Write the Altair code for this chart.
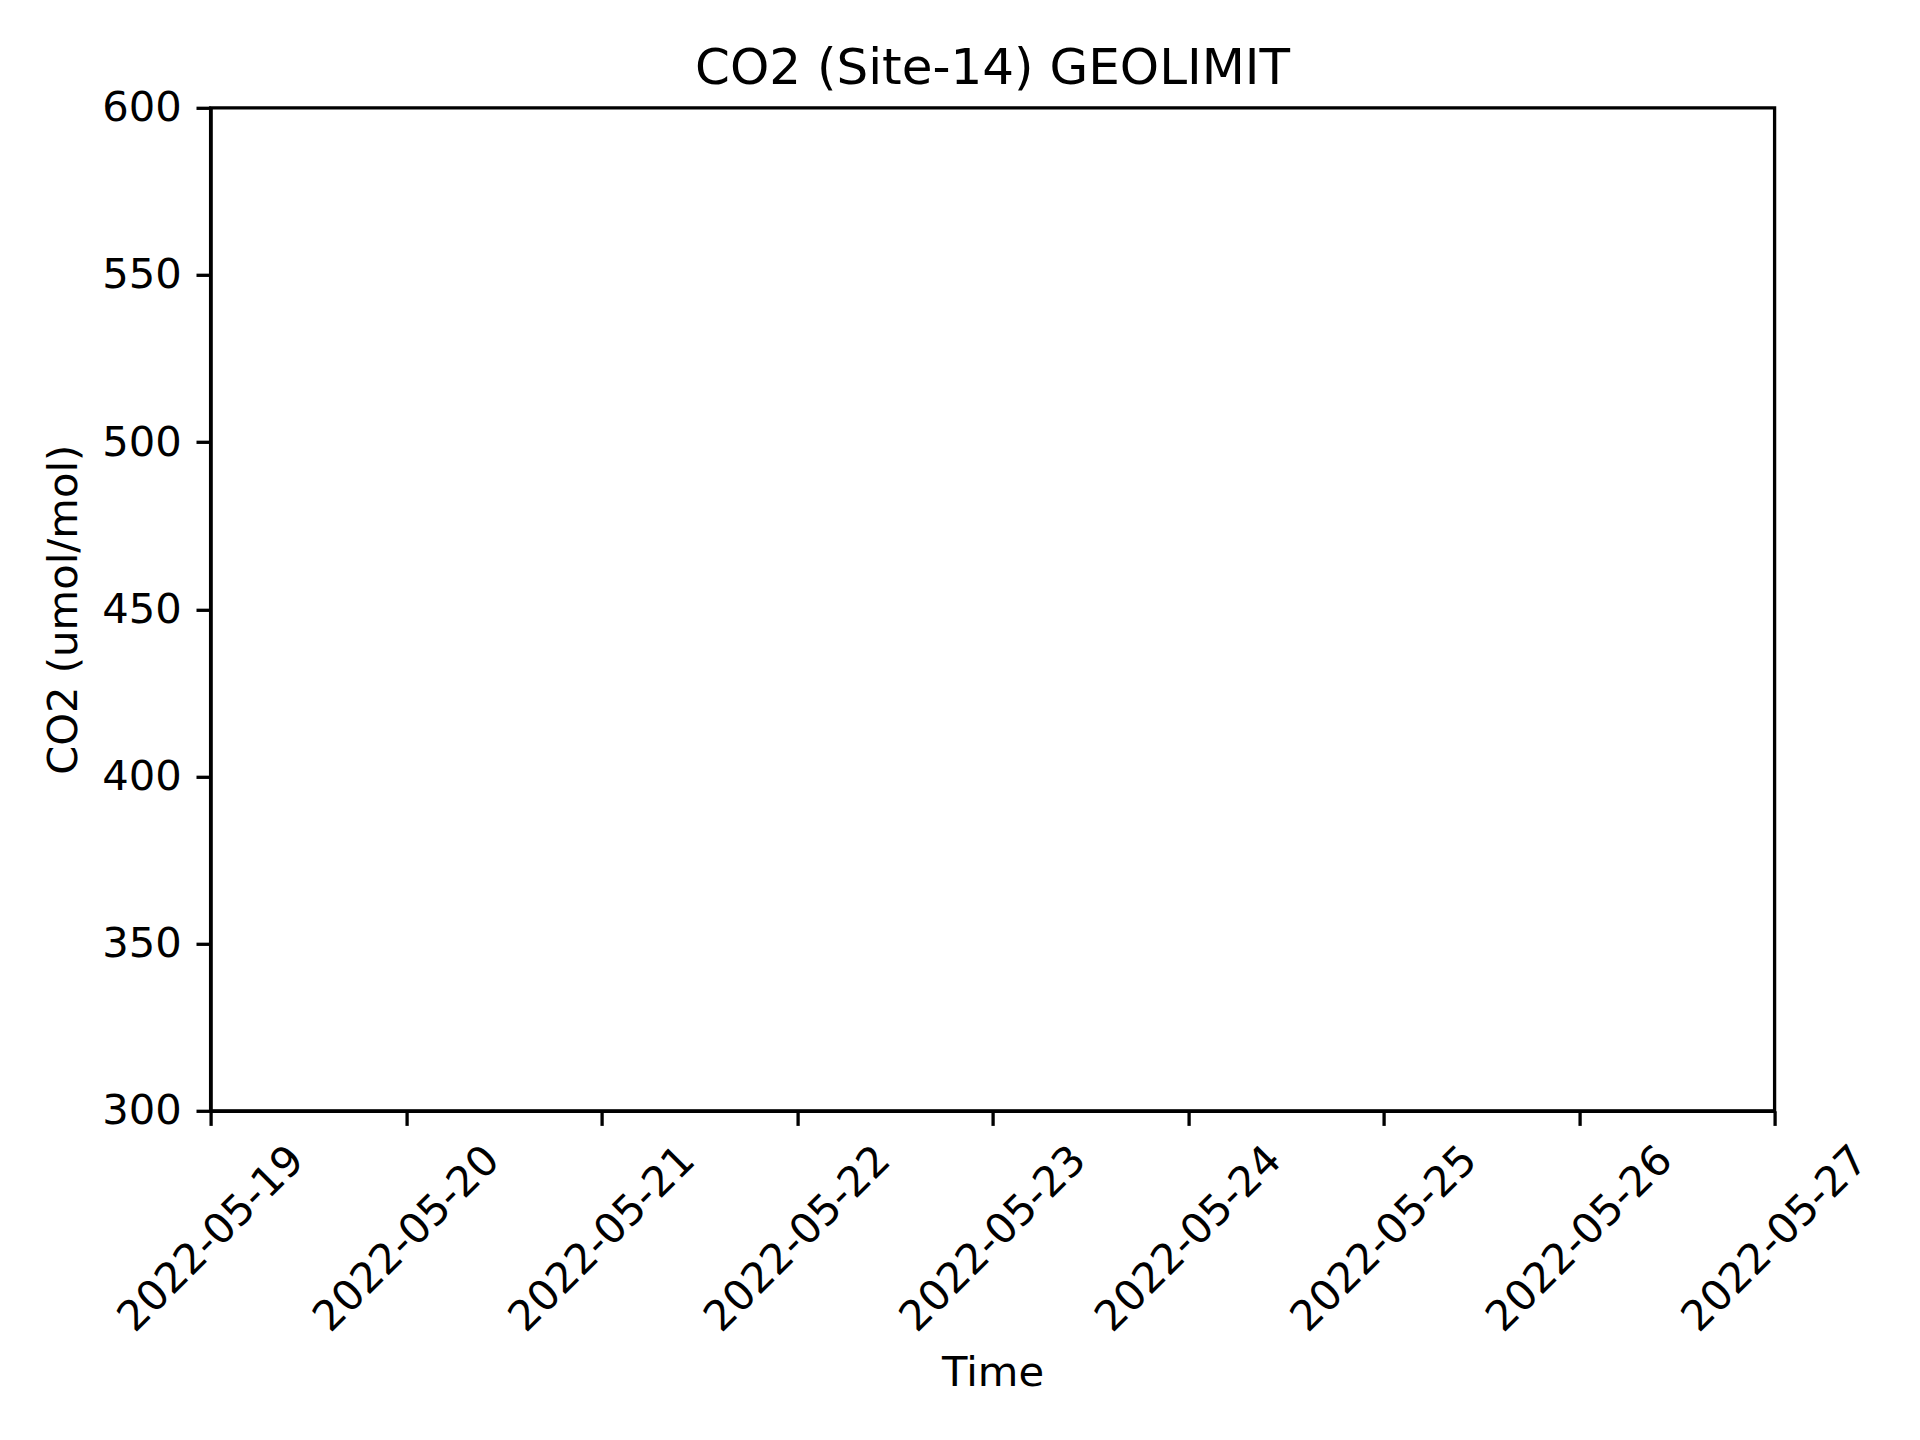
import altair as alt

# Data (the reference plot contains no data points)
time_values = []
co2_values = []

tick_dates = ["2022-05-19", "2022-05-20", "2022-05-21", "2022-05-22", "2022-05-23",
              "2022-05-24", "2022-05-25", "2022-05-26", "2022-05-27"]
y_ticks = [300, 350, 400, 450, 500, 550, 600]
y_domain = [300, 600]

title_text = "CO2 (Site-14) GEOLIMIT"
x_title = "Time"
y_title = "CO2 (umol/mol)"


def to_dt(s):
    y, m, d = (int(p) for p in s.split("-"))
    return alt.DateTime(year=y, month=m, date=d, utc=True)


x_vals = [to_dt(s) for s in tick_dates]
rows = [{"time": t, "co2": c} for t, c in zip(time_values, co2_values)]

FONT = "DejaVu Sans"
TICK_FS = 41.7
LW = 3.3

chart = alt.Chart(alt.Data(values=rows)).mark_line(color="#1f77b4").encode(
    x=alt.X(
        "time:T",
        scale=alt.Scale(type="utc", domain=[x_vals[0], x_vals[-1]], nice=False),
        axis=alt.Axis(
            values=x_vals,
            format="%Y-%m-%d",
            labelAngle=-45,
            labelAlign="center",
            labelBaseline="middle",
            labelPadding=113,
            labelLimit=600,
            title=x_title,
            titlePadding=42,
        ),
    ),
    y=alt.Y(
        "co2:Q",
        scale=alt.Scale(domain=y_domain, nice=False, zero=False),
        axis=alt.Axis(values=y_ticks, title=y_title, titlePadding=16, labelPadding=14.6),
    ),
).properties(
    width=1564,
    height=1003,
    autosize=alt.AutoSizeParams(type="none"),
    padding={"left": 202.6, "top": 99.8, "right": 137, "bottom": 321},
    title=alt.TitleParams(
        title_text,
        font=FONT,
        fontSize=50,
        fontWeight="normal",
        color="black",
        anchor="middle",
        frame="group",
        baseline="bottom",
        offset=-56,
    ),
).configure(
    background="white",
    font=FONT,
).configure_view(
    stroke="black",
    strokeWidth=LW,
).configure_axis(
    grid=False,
    domainColor="black",
    domainWidth=LW,
    tickColor="black",
    tickWidth=LW,
    tickSize=14.6,
    labelFont=FONT,
    labelFontSize=TICK_FS,
    labelColor="black",
    titleFont=FONT,
    titleFontSize=TICK_FS,
    titleFontWeight="normal",
    titleColor="black",
    labelOverlap=False,
    labelFlush=False,
)

chart.save("out.html", embed_options={"renderer": "svg", "actions": False})
